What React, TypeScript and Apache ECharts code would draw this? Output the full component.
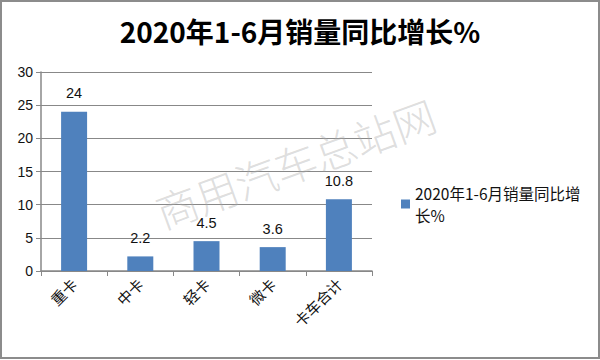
import React, { useEffect, useRef } from "react";
import * as echarts from "echarts";

const categories = ["重卡", "中卡", "轻卡", "微卡", "卡车合计"];
const values = [24, 2.2, 4.5, 3.6, 10.8];
const seriesName = "2020年1-6月销量同比增长%";
const titleText = "2020年1-6月销量同比增长%";
const watermark = "商用汽车总站网";

export default function App() {
  const ref = useRef<HTMLDivElement>(null);
  useEffect(() => {
    if (!ref.current) return;
    const chart = echarts.init(ref.current, undefined, { renderer: "svg" });
    chart.setOption({
      animation: false,
      backgroundColor: "#ffffff",
      title: {
        text: titleText,
        left: "center",
        top: 12,
        textStyle: {
          fontSize: 28,
          fontWeight: "bold",
          color: "#000",
          fontFamily: "Noto Sans CJK SC",
        },
      },
      legend: {
        left: 396,
        top: 177,
        orient: "vertical",
        itemWidth: 9,
        itemHeight: 9,
        icon: "rect",
        formatter: () => "2020年1-6月销量同比增\n长%",
        textStyle: {
          fontSize: 15.5,
          color: "#111",
          lineHeight: 22,
          fontFamily: "Noto Sans CJK SC",
        },
        data: [seriesName],
      },
      grid: { left: 41, right: 228, top: 72, bottom: 89 },
      xAxis: {
        type: "category",
        data: categories,
        axisLine: { lineStyle: { color: "#888", width: 1.5 } },
        axisTick: { show: true, length: 5, lineStyle: { color: "#888" } },
        axisLabel: {
          rotate: 45,
          fontSize: 15,
          color: "#111",
          margin: 10,
          fontFamily: "Noto Sans CJK SC",
        },
      },
      yAxis: {
        type: "value",
        min: 0,
        max: 30,
        interval: 5,
        axisLine: { show: true, lineStyle: { color: "#888", width: 1.5 } },
        axisTick: { show: true, length: 5, lineStyle: { color: "#888" } },
        splitLine: { lineStyle: { color: "#888", width: 1.2 } },
        axisLabel: {
          fontSize: 14,
          color: "#111",
          margin: 8,
          fontFamily: "Liberation Sans",
        },
      },
      series: [
        {
          name: seriesName,
          type: "bar",
          data: values,
          barWidth: 26,
          itemStyle: { color: "#4f81bd" },
          label: {
            show: true,
            position: "top",
            distance: 11,
            fontSize: 14.5,
            color: "#111",
            fontFamily: "Liberation Sans",
          },
        },
      ],
      graphic: [
        {
          type: "text",
          x: 295,
          y: 162,
          rotation: (20 * Math.PI) / 180,
          silent: true,
          z: 100,
          style: {
            text: watermark,
            fontSize: 42,
            fill: "rgba(170,170,170,0.4)",
            fontFamily: "Noto Sans CJK SC",
            fontWeight: 300,
            align: "center",
            verticalAlign: "middle",
          },
        },
        {
          type: "rect",
          shape: { x: 1, y: 1, width: 598, height: 357 },
          style: { fill: "none", stroke: "#8c8c8c", lineWidth: 2 },
          silent: true,
        },
      ],
    });
    return () => chart.dispose();
  }, []);
  return (
    <div
      ref={ref}
      style={{ position: "fixed", left: 0, top: 0, width: 600, height: 360 }}
    />
  );
}
